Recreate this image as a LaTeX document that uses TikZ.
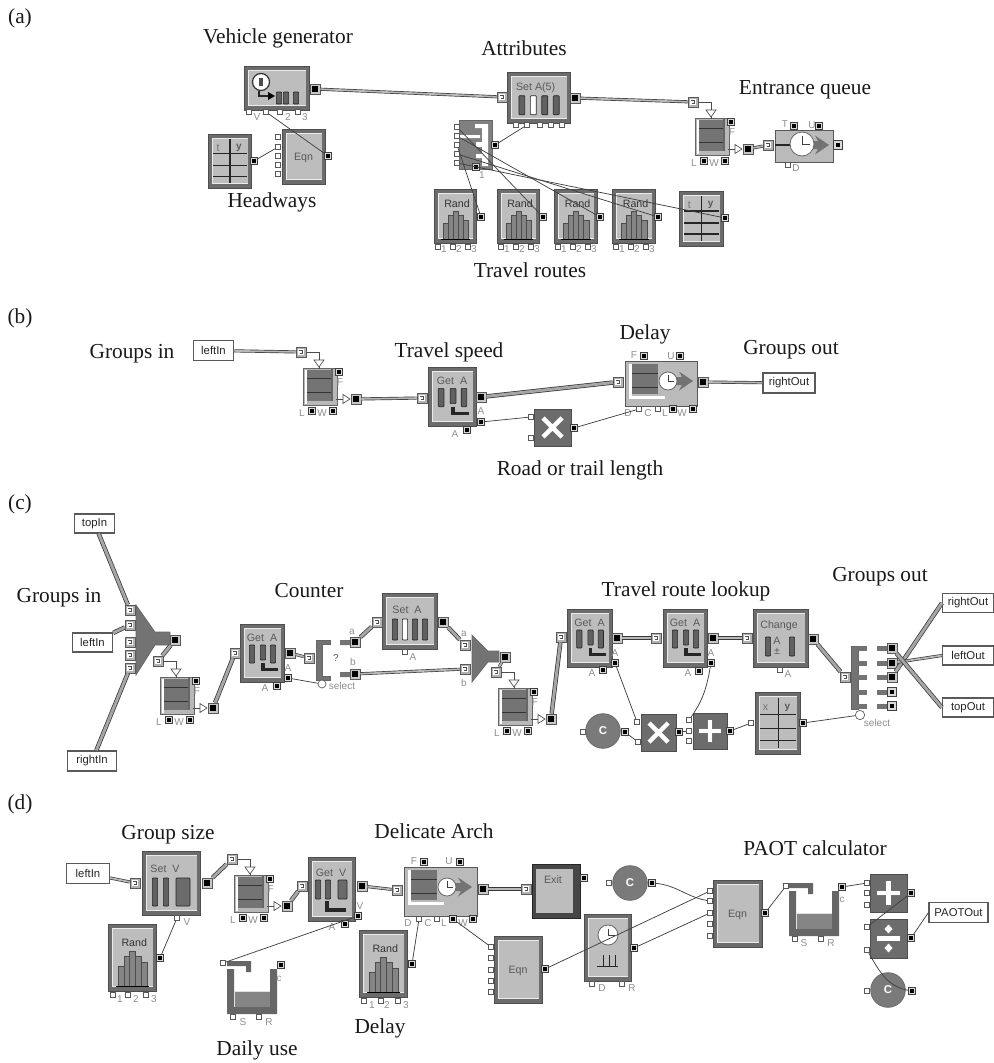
\documentclass[tikz,border=0pt]{standalone}
\usepackage{fontspec}
\setmainfont{Liberation Serif}
\setsansfont{Liberation Sans}
\definecolor{bdark}{HTML}{6C6C6C}
\definecolor{bedge}{HTML}{4E4E4E}
\definecolor{panelc}{HTML}{BDBDBD}
\definecolor{stack}{HTML}{747474}
\definecolor{lab}{HTML}{8E8E8E}
\newcounter{lb}
\tikzset{
  x=0.75pt,y=-0.75pt,
  captxt/.style={font=\rmfamily\fontsize{16}{18}\selectfont,inner sep=0pt,text=black!90,anchor=base,yshift=-4.5pt},
  plab/.style={font=\sffamily\fontsize{7.5}{8}\selectfont,inner sep=0pt,text=lab},
  itxt/.style={font=\sffamily\fontsize{8}{9}\selectfont,inner sep=0pt,text=black!65},
  vin/.style={rectangle,draw=black!65,fill=white,line width=.5pt,minimum size=4.2pt,inner sep=0pt},
  vout/.style={rectangle,draw=black!75,fill=black!15,line width=.5pt,minimum size=4.8pt,inner sep=0pt,
    path picture={\fill[black] (path picture bounding box.center) +(-1.3pt,-1.3pt) rectangle +(1.3pt,1.3pt);}},
  iin/.style={rectangle,draw=black!65,fill=black!30,line width=.5pt,minimum size=7.5pt,inner sep=0pt,
    path picture={\fill[white] (path picture bounding box.center) +(-2.4pt,-2.4pt) rectangle +(2.4pt,2.4pt);
      \draw[black!70,line width=.9pt] (path picture bounding box.center) +(-1.6pt,1.2pt) -- +(1.2pt,1.2pt) -- +(1.2pt,-1.2pt) -- +(-.6pt,-1.2pt);}},
  iout/.style={rectangle,draw=black!65,fill=black!22,line width=.5pt,minimum size=7.5pt,inner sep=0pt,
    path picture={\fill[black] (path picture bounding box.center) +(-2.3pt,-2.3pt) rectangle +(2.3pt,2.3pt);}},
  blockbody/.style={rectangle,draw=bedge,fill=bdark,line width=.6pt,inner sep=0pt},
  wire/.style={draw=black!75,line width=.55pt},
  itemw/.style={draw=black!78,line width=.5pt,double=black!28,double distance=1.3pt},
  itemb/.style={draw=black!78,line width=.55pt,double=black!35,double distance=2.2pt},
  sym/.style={draw=black!55,line width=.35pt,double=white,double distance=3.2pt},
  thinw/.style={draw=black!70,line width=.5pt},
  namebox/.style={rectangle,draw=black!65,fill=white,line width=1.1pt,inner sep=0pt,
     font=\sffamily\fontsize{8.5}{9}\selectfont,text=black!85},
  cblock/.style={circle,draw=black!60,fill=black!52,line width=.5pt,inner sep=0pt,minimum size=26pt,
     font=\sffamily\bfseries\fontsize{8.5}{9}\selectfont,text=white},
}
\newcommand{\lab}[3]{\stepcounter{lb}\node[plab] (lb\arabic{lb}) at (#1,#2) {#3};}
\newcommand{\cp}[3]{\node[captxt] (#1) at #2 {#3};}
\newcommand{\vi}[3]{\node[vin] (#1) at (#2,#3) {};}
\newcommand{\vo}[3]{\node[vout] (#1) at (#2,#3) {};}
\newcommand{\ii}[3]{\node[iin] (#1) at (#2,#3) {};}
\newcommand{\io}[3]{\node[iout] (#1) at (#2,#3) {};}
% plain framed block: name x1 y1 x2 y2
\newcommand{\blk}[5]{%
  \pgfmathsetmacro\bw{(#4-#2)*.75}\pgfmathsetmacro\bh{(#5-#3)*.75}%
  \node[blockbody,minimum width=\bw pt,minimum height=\bh pt] (#1) at ({(#2+#4)/2},{(#3+#5)/2}) {};
  \fill[black!8] (#2+4,#3+4) rectangle (#4-3,#5-4.5);
  \fill[panelc] (#2+5,#3+5) rectangle (#4-3.5,#5-5);
}
% dark operator block
\newcommand{\dblk}[5]{%
  \pgfmathsetmacro\bw{(#4-#2)*.75}\pgfmathsetmacro\bh{(#5-#3)*.75}%
  \node[blockbody,minimum width=\bw pt,minimum height=\bh pt] (#1) at ({(#2+#4)/2},{(#3+#5)/2}) {};
}
\newcommand{\barr}[4][black!62]{\draw[black!85,fill=#1,line width=.5pt,rounded corners=.6pt] (#2-2.6,#3) rectangle (#2+2.6,#4);}
\newcommand{\scl}[6]{\pgfmathsetmacro\sx{(#3-#1)/#5}\pgfmathsetmacro\sy{(#4-#2)/#6}}
% name x1 y1 x2 y2 title
\newcommand{\getblk}[6]{%
  \blk{#1}{#2}{#3}{#4}{#5}\scl{#2}{#3}{#4}{#5}{44}{58}%
  \begin{scope}[shift={(#2,#3)},xscale=\sx,yscale=\sy]
    \node[itxt] (#1-t) at (22,14) {#6};
    \barr{12}{21}{39}\barr{23}{21}{36}\barr{33}{21}{39}
    \draw[black!85,line width=2.6pt] (23,39) -- (23,45.5) -- (38,45.5);
  \end{scope}}
% name x1 y1 x2 y2 title
\newcommand{\setblk}[6]{%
  \blk{#1}{#2}{#3}{#4}{#5}\scl{#2}{#3}{#4}{#5}{55}{56}%
  \begin{scope}[shift={(#2,#3)},xscale=\sx,yscale=\sy]
    \node[itxt] (#1-t) at (25,17) {#6};
    \barr{13}{26}{47}\barr[white]{23}{26}{47}\barr{33}{26}{47}\barr{43}{26}{47}
  \end{scope}}
\newcommand{\randblk}[5]{%
  \blk{#1}{#2}{#3}{#4}{#5}\scl{#2}{#3}{#4}{#5}{42}{54}%
  \begin{scope}[shift={(#2,#3)},xscale=\sx,yscale=\sy]
    \node[itxt,text=black!80] (#1-t) at (23,15) {Rand};
    \foreach \bxx/\btt in {9/34,14/26,19/22,24/26,29/31}{\draw[black!70,fill=black!48,line width=.4pt] (\bxx,\btt) rectangle (\bxx+5,50);}
    \draw[black,line width=.6pt] (7,50) -- (36,50);
  \end{scope}}
\newcommand{\tblk}[7]{%
  \blk{#1}{#2}{#3}{#4}{#5}\scl{#2}{#3}{#4}{#5}{43}{55}%
  \begin{scope}[shift={(#2,#3)},xscale=\sx,yscale=\sy]
    \node[itxt,text=black!55] (#1-t) at (10,14) {#6};
    \node[itxt,font=\sffamily\bfseries\fontsize{7.5}{8}\selectfont] (#1-u) at (31,14) {#7};
    \draw[black!85,line width=.8pt] (22,5) -- (22,50) (5,20) -- (39,20) (5,32) -- (39,32) (5,43) -- (39,43);
  \end{scope}}
\newcommand{\eqnblk}[5]{%
  \blk{#1}{#2}{#3}{#4}{#5}
  \node[itxt] (#1-t) at ({(#2+#4)/2},{(#3+#5)/2+1}) {Eqn};}
% queue: name x1 y1
\newcommand{\queue}[3]{%
  \begin{scope}[shift={(#2,#3)}]
    \node[rectangle,draw=black!60,fill=black!28,minimum width=25.5pt,minimum height=28pt,inner sep=0pt,line width=.5pt] (#1) at (17,19) {};
    \fill[white] (1.5,1.5) rectangle (4,36);
    \fill[stack] (4,1.5) rectangle (29,33);
    \draw[black!80,line width=.5pt] (4,10) -- (29,10) (4,24) -- (29,24);
    \draw[black!60,line width=.9pt] (29,1) -- (29,33);
    \lab{37}{14}{F}\lab{-1}{45}{L}\lab{19}{45}{W}
    \vo{#1-f}{36}{4}\vo{#1-l}{9}{43}\vo{#1-w}{30}{43}
    \io{#1-out}{53}{31}
    \ii{#1-in}{-2}{-16}
    \coordinate (#1-tri) at (16,-8);
    \coordinate (#1-ot) at (40,31);
    \draw[thinw,fill=white] (11,-8) -- (21,-8) -- (16,-1) -- cycle;
    \draw[thinw] (16,-1) -- (16,1);
    \draw[thinw] (33,31) -- (40,31);
    \draw[thinw,fill=white] (40,26.5) -- (40,35.5) -- (47,31) -- cycle;
  \end{scope}
  \draw[thinw] (#1-in.east) -| (#1-tri);}
\newcommand{\clockk}[4]{\draw[black!60,fill=white,line width=.6pt] (#1,#2) circle[radius=#3];
  \draw[black!75,line width=.7pt] (#1,#2-#3*.65) -- (#1,#2) -- (#1+#3*.65,#2);}
\newcommand{\barrow}[3]{\fill[black!55] (#1,#2-4) -- (#1+13,#2-4) -- (#1+10,#2-9.5) -- (#1+24,#2) -- (#1+10,#2+9.5) -- (#1+13,#2+4) -- (#1,#2+4) -- cycle;}
% activity without stack
\newcommand{\actblk}[5]{%
  \pgfmathsetmacro\bw{(#4-#2)*.75}\pgfmathsetmacro\bh{(#5-#3)*.75}%
  \node[rectangle,draw=black!65,fill=black!27,line width=.6pt,inner sep=0pt,minimum width=\bw pt,minimum height=\bh pt] (#1) at ({(#2+#4)/2},{(#3+#5)/2}) {};
  \barrow{#2+30}{#3+15}{1}
  \draw[black!85,line width=1.2pt] (#2,#3+15) -- (#2+15,#3+15);
  \clockk{#2+27}{#3+14}{12}{1}}
% delay block with stack
\newcommand{\delblk}[5]{%
  \pgfmathsetmacro\bw{(#4-#2)*.75}\pgfmathsetmacro\bh{(#5-#3)*.75}%
  \node[rectangle,draw=black!65,fill=black!27,line width=.6pt,inner sep=0pt,minimum width=\bw pt,minimum height=\bh pt] (#1) at ({(#2+#4)/2},{(#3+#5)/2}) {};
  \fill[white] (#2+4,#3+3) rectangle (#2+7,#3+38);
  \fill[white] (#2+4,#3+35) rectangle (#2+40,#3+38);
  \fill[stack] (#2+7,#3+3) rectangle (#2+33,#3+33);
  \draw[black!80,line width=.5pt] (#2+7,#3+12) -- (#2+33,#3+12) (#2+7,#3+26) -- (#2+33,#3+26);
  \barrow{#2+44}{#3+20}{1}
  \clockk{#2+43}{#3+20}{9}{1}}
\newcommand{\tank}[3]{%
  \begin{scope}[shift={(#2,#3)}]
    \node[rectangle,inner sep=0pt,minimum width=36pt,minimum height=38pt] (#1) at (25,27) {};
    \fill[black!60] (0,8) -- (0,53) -- (50,53) -- (50,8) -- (43,8) -- (43,46) -- (7,46) -- (7,8) -- cycle;
    \fill[black!12] (7,30) rectangle (43,46);
    \fill[black!48] (8,31) rectangle (43,46);
    \fill[black!60] (0,0) -- (24,0) -- (24,11) -- (19,11) -- (19,5) -- (0,5) -- cycle;
  \end{scope}}
\begin{document}
\begin{tikzpicture}
\useasboundingbox (0,0) rectangle (994,1063);
\fill[white] (0,0) rectangle (994,1063);
%%%%%%%%%% (a)
\cp{la}{(20,18)}{(a)}
\cp{aveh}{(278,38)}{Vehicle generator}
\cp{aatt}{(524,50)}{Attributes}
\cp{aent}{(805,88)}{Entrance queue}
\cp{ahead}{(272,201)}{Headways}
\cp{atrav}{(530,271)}{Travel routes}
\blk{vg}{244}{66}{309}{110}
\draw[black!80,fill=white,line width=.9pt] (261,82) circle[radius=8.5];
\fill[black!70] (259,78) rectangle (263,86);
\draw[black!85,line width=.8pt] (259,91) -- (259,96) -- (270,96);
\fill[black] (268,92) -- (275,96) -- (268,100) -- cycle;
\barr{279}{92}{104}\barr{286}{92}{104}\barr{296}{92}{104}
\vi{vg1}{249}{112}\vi{vg2}{266}{112}\vi{vg3}{280}{112}\vi{vg4}{298}{112}
\lab{257}{117}{V}\lab{288}{117}{2}\lab{305}{117}{3}
\io{vgo}{315}{89}
\setblk{attr}{507}{72}{570}{123}{Set A(5)}
\ii{attri}{502}{97}\io{attro}{575}{98}
\vi{at1}{516}{125}\vi{at2}{527}{125}\vi{at3}{540}{125}\vi{at4}{551}{125}\vi{at5}{562}{125}
\draw[itemw] (vgo) -- (attri);
\tblk{htab}{208}{134}{251}{188}{t}{y}
\vo{htabo}{254}{161}
\eqnblk{heq}{282}{129}{325}{184}
\foreach \py/\pn in {137/1,147/2,156/3,165/4,174/5}{\vi{heq\pn}{278}{\py}}
\vo{heqo}{328}{156}
\draw[wire] (htabo) -- (heq2);
\draw[wire] (vg2) -- (heqo);
% route table
\node[rectangle,draw=black!60,fill=black!50,line width=.5pt,minimum width=25pt,minimum height=37pt,inner sep=0pt] (route) at (476,145) {};
\fill[white] (482,124) rectangle (488,166) (475,124) rectangle (482,128) (476,142) rectangle (482,147) (476,154) rectangle (482,158) (459,135) rectangle (480,138);
\foreach \py/\pn in {127/1,136/2,145/3,154/4,163/5}{\vi{rt\pn}{457}{\py}}
\vo{rto}{495}{145}
\vo{rtb}{476}{167}
\lab{482}{175}{1}
\draw[wire] (rto) -- (at2);
\randblk{ra1}{434}{189}{476}{243}
\randblk{ra2}{497}{189}{539}{243}
\randblk{ra3}{554}{189}{597}{243}
\randblk{ra4}{612}{189}{655}{243}
\tblk{rtab}{679}{191}{723}{246}{t}{y}
\vo{ra1o}{481}{217}\vo{ra2o}{543}{217}\vo{ra3o}{600}{217}\vo{ra4o}{658}{217}\vo{rtabo}{725}{218}
\foreach \k/\xa/\xb/\xc in {1/438/453/468,2/501/516/531,3/558/573/588,4/616/631/646}{
  \vi{rb\k a}{\xa}{247}\vi{rb\k b}{\xb}{247}\vi{rb\k c}{\xc}{247}
  \lab{\xa+6}{249}{1}\lab{\xb+6}{249}{2}\lab{\xc+6}{249}{3}}
\draw[wire] (rt3) -- (ra1o);
\draw[wire] (rt1) -- (ra2o);
\draw[wire] (rt2) -- (ra3o);
\draw[wire] (rt4) -- (ra4o);
\draw[wire] (rt5) -- (rtabo);
\queue{qa}{695}{118}
\draw[itemw] (attro) -- (qa-in);
\actblk{acta}{775}{130}{833}{162}
\ii{actai}{768}{145}\vo{actat}{794}{126}\vo{actau}{819}{126}\vi{actad}{788}{165}\node[vout,minimum size=6.5pt] (actao) at (838,145) {};
\lab{785}{124}{T}\lab{812}{125}{U}\lab{796}{168}{D}
\draw[itemw] (qa-out) -- (actai);
%%%%%%%%%% (b)
\cp{lb}{(20,317)}{(b)}
\cp{bgi}{(132,352)}{Groups in}
\cp{bts}{(449,351)}{Travel speed}
\cp{bd}{(645,333)}{Delay}
\cp{bgo}{(791,348)}{Groups out}
\cp{brt}{(580,469)}{Road or trail length}
\node[namebox,minimum width=30pt,minimum height=15pt] (bleft) at (213.5,350.5) {leftIn};
\queue{qb}{303}{368}
\draw[itemw] (bleft) -- (qb-in);
\getblk{bget}{428}{367}{476}{426}{Get\ \ A}
\ii{bgeti}{422}{398}\io{bgeto}{481}{397}\vo{bgeta}{481}{422}\vo{bgetb}{467}{430}
\lab{455}{434}{A}\lab{481}{411}{A}
\draw[itemw] (qb-out) -- (bgeti);
\delblk{bdel}{625}{361}{697}{406}
\ii{bdeli}{618}{382}\io{bdelo}{703}{382}
\vo{bdf}{644}{356}\vo{bdu}{680}{356}\vi{bdd}{639}{409}\vi{bdc}{658}{409}\vo{bdl}{673}{409}\vo{bdw}{693}{409}
\lab{634}{355}{F}\lab{671}{356}{U}\lab{628}{413}{D}\lab{648}{413}{C}\lab{665}{413}{L}\lab{682}{413}{W}
\draw[itemb] (bgeto) -- (bdeli);
\dblk{bx}{534}{409}{571}{446}
\draw[sym] (543,418) -- (562,437) (562,418) -- (543,437);
\vi{bx1}{531}{417}\vi{bx2}{531}{438}\vo{bxo}{574}{428}
\draw[wire] (bgeta) -- (bx1);
\draw[wire] (bxo) -- (bdd);
\node[namebox,minimum width=39pt,minimum height=15pt] (bright) at (789,383) {rightOut};
\draw[itemw] (bdelo) -- (bright);
%%%%%%%%%% (c)
\cp{lc}{(20,503)}{(c)}
\cp{cgi}{(59,596)}{Groups in}
\cp{cco}{(309,591)}{Counter}
\cp{ctr}{(686,590)}{Travel route lookup}
\cp{cgo}{(880,575)}{Groups out}
\node[namebox,minimum width=30pt,minimum height=14pt] (ctop) at (94.5,523.5) {topIn};
\node[namebox,minimum width=30pt,minimum height=14pt] (cleft) at (92.5,642.5) {leftIn};
\node[namebox,minimum width=37pt,minimum height=15pt] (cright) at (92,761) {rightIn};
\draw[black!60,fill=black!55,line width=.5pt] (136,605) -- (155,632) -- (170,632) -- (170,645) -- (155,645) -- (136,675) -- cycle;
\ii{cm1}{130}{610}\ii{cm2}{130}{625}\ii{cm3}{130}{642}\ii{cm4}{130}{655}\ii{cm5}{130}{668}
\io{cmo}{175}{640}
\draw[itemb] (ctop) -- (cm1);
\draw[itemb] (cleft) -- (cm2);
\draw[itemb] (cright) -- (cm5);
\queue{qc}{160}{677}
\draw[itemb] (cmo) -- (qc-in);
\getblk{cg1}{240}{624}{284}{682}{Get\ \ A}
\ii{cg1i}{235}{653}\io{cg1o}{290}{653}\vo{cg1a}{288}{678}\vo{cg1b}{277}{686}
\lab{265}{688}{A}\lab{288}{668}{A}
\draw[itemb] (qc-out) -- (cg1i);
% select
\draw[black!60,fill=black!55,line width=.5pt] (316,640) -- (330,640) -- (330,644) -- (322,644) -- (322,676) -- (330,676) -- (330,680) -- (316,680) -- cycle;
\ii{csi}{309}{658}
\draw[itemw] (cg1o) -- (csi);
\node[vin,circle,minimum size=6pt] (csel) at (322,684) {};
\lab{342}{686}{select}
\draw[wire] (cg1a) -- (csel);
\node[plab,text=black!65] (cq) at (336,658) {?};
\fill[black!55] (340,640) rectangle (350,645) (340,672) rectangle (350,677);
\io{csa}{355}{642}\io{csb}{355}{674}
\lab{352}{632}{a}\lab{353}{662}{b}
\setblk{cset}{382}{593}{437}{649}{Set\ \ A}
\ii{cseti}{377}{622}\io{cseto}{443}{622}\vi{csetb}{405}{652}\lab{413}{657}{A}
\draw[itemb] (csa) -- (cseti);
\draw[black!60,fill=black!55,line width=.5pt] (472,635) -- (488,651) -- (499,651) -- (499,662) -- (488,662) -- (472,682) -- cycle;
\ii{cb1}{465}{645}\ii{cb2}{465}{669}\io{cbo}{505}{657}
\lab{464}{634}{a}\lab{464}{683}{b}
\draw[itemb] (cseto) -- (cb1);
\draw[itemw] (csb) -- (cb2);
\queue{qd}{498}{688}
\draw[itemw] (cbo) -- (qd-in);
\getblk{cg2}{567}{609}{612}{667}{Get\ \ A}
\ii{cg2i}{561}{637}\io{cg2o}{617}{638}\vo{cg2a}{615}{663}\vo{cg2b}{603}{670}
\lab{592}{673}{A}\lab{615}{653}{A}
\draw[itemb] (qd-out) -- (cg2i);
\node[cblock] (cc) at (603,731) {C};
\vi{cci}{583}{732}\vo{cco2}{625}{732}
\dblk{cmul}{641}{714}{676}{751}
\draw[sym] (649,723) -- (668,742) (668,723) -- (649,742);
\vi{cmul1}{637}{722}\vi{cmul2}{638}{742}\vo{cmulo}{679}{732}
\draw[wire] (cg2a) -- (cmul1);
\draw[wire] (cco2) -- (cmul2);
\dblk{cplus}{693}{713}{727}{749}
\draw[sym] (710,720) -- (710,742) (699,731) -- (721,731);
\vi{cpl1}{689}{720}\vi{cpl2}{689}{731}\vi{cpl3}{689}{741}\vo{cplo}{730}{731}
\draw[wire] (cmulo) -- (cpl2);
\getblk{cg3}{663}{609}{707}{667}{Get\ \ A}
\ii{cg3i}{656}{638}\io{cg3o}{713}{638}\vo{cg3a}{711}{663}\vo{cg3b}{699}{671}
\lab{688}{673}{A}\lab{711}{653}{A}
\draw[itemw] (cg2o) -- (cg3i);
\draw[wire] (cg3a) to[out=260,in=55] (cpl1);
\blk{cch}{753}{609}{808}{667}
\node[itxt] (cch-t) at (779,626) {Change};
\barr{768}{637}{656}\barr{792}{637}{656}
\node[itxt] (cch-a) at (777,641) {A};
\node[itxt] (cch-p) at (777,651) {±};
\ii{cchi}{747}{638}\io{ccho}{813}{639}\vi{cchb}{780}{670}\lab{788}{674}{A}
\draw[itemw] (cg3o) -- (cchi);
\tblk{ctab}{755}{692}{800}{754}{x}{y}
\vi{ctabi}{751}{723}\vo{ctabo}{803}{723}
\draw[wire] (cplo) -- (ctabi);
% selector out
\draw[black!60,fill=black!55,line width=.5pt] (851,646) rectangle (858,709);
\foreach \py in {648,663,677,692,706}{\fill[black!55] (858,\py-2.5) rectangle (867,\py+2.5); \fill[black!55] (877,\py-2.5) rectangle (887,\py+2.5);}
\ii{cswi}{845}{677}
\draw[itemb] (ccho) -- (cswi);
\io{csw1}{892}{648}\io{csw2}{892}{663}\io{csw3}{892}{677}\node[vout,minimum size=7pt] (csw4) at (892,692) {};\node[vout,minimum size=7pt] (csw5) at (892,706) {};
\node[vin,circle,minimum size=7pt] (cswsel) at (860,715) {};
\lab{877}{723}{select}
\draw[wire] (ctabo) -- (cswsel);
\node[namebox,minimum width=38pt,minimum height=14pt] (crout) at (968,603) {rightOut};
\node[namebox,minimum width=38pt,minimum height=14pt] (clout) at (968,655.5) {leftOut};
\node[namebox,minimum width=38pt,minimum height=14pt] (ctout) at (968,707.5) {topOut};
\draw[itemb] (csw3) -- (crout.west);
\draw[itemw] (csw2) -- (clout.west);
\draw[itemb] (csw1) -- (ctout.west);
%%%%%%%%%% (d)
\cp{ld}{(20,803)}{(d)}
\cp{dgs}{(168,833)}{Group size}
\cp{dda}{(434,832)}{Delicate Arch}
\cp{dpa}{(815,849)}{PAOT calculator}
\cp{ddu}{(257,1049)}{Daily use}
\cp{ddl}{(380,1027)}{Delay}
\node[namebox,minimum width=32pt,minimum height=15pt] (dleft) at (88,873.5) {leftIn};
\blk{dset}{142}{851}{200}{915}
\node[itxt] (dset-t) at (165,869) {Set\ \ V};
\barr{155}{878}{906}\barr{166}{878}{906}
\draw[black!85,fill=black!58,line width=.5pt,rounded corners=.6pt] (176,878) rectangle (190,906);
\ii{dseti}{135}{883}\io{dseto}{207}{883}\vi{dsetb}{177}{918}\lab{187}{922}{V}
\draw[itemw] (dleft) -- (dseti);
\randblk{dr1}{108}{924}{156}{991}
\vo{dr1o}{160}{958}\vi{dr1a}{113}{995}\vi{dr1b}{128}{995}\vi{dr1c}{146}{995}
\lab{120}{999}{1}\lab{136}{999}{2}\lab{154}{999}{3}
\draw[wire] (dr1o) -- (dsetb);
\queue{qe}{234}{875}
\draw[itemb] (dseto) -- (qe-in);
\blk{dget}{308}{857}{355}{921}
\node[itxt] (dget-t) at (331,873) {Get\ \ V};
\barr{318}{880}{899}\barr{328}{880}{899}
\draw[black!85,fill=black!58,line width=.5pt,rounded corners=.6pt] (338,880) rectangle (347,899);
\draw[black!85,line width=2.6pt] (327,901) -- (327,910) -- (346,910);
\ii{dgeti}{302}{886}\io{dgeto}{362}{886}\vo{dgeta}{358}{916}\vo{dgetb}{345}{924}
\lab{332}{927}{A}\lab{360}{906}{V}
\draw[itemb] (qe-out) -- (dgeti);
\tank{dtk}{227}{961}
\vi{dtki}{223}{963}\vo{dtko}{281}{965}\vi{dtks}{233}{1017}\vi{dtkr}{259}{1017}
\lab{279}{979}{c}\lab{243}{1022}{S}\lab{269}{1022}{R}
\draw[wire] (dgeta) -- (dtki);
\delblk{ddel}{404}{867}{477}{916}
\ii{ddeli}{397}{890}\io{ddelo}{483}{889}
\vo{ddf}{424}{862}\vo{ddu2}{460}{862}\vi{ddd}{419}{919}\vi{ddc}{437}{919}\vo{ddl2}{453}{919}\vo{ddw}{473}{919}
\lab{414}{861}{F}\lab{449}{861}{U}\lab{408}{923}{D}\lab{428}{923}{C}\lab{444}{923}{L}\lab{463}{923}{W}
\draw[itemw] (dgeto) -- (ddeli);
\node[rectangle,draw=black!85,fill=black!72,line width=.6pt,minimum width=36pt,minimum height=41pt,inner sep=0pt] (dex) at (556,891.5) {};
\fill[panelc] (536,869) rectangle (573,913);
\node[itxt] (dex-t) at (553,880) {Exit};
\ii{dexi}{526}{889}\vo{dexo}{584}{878}
\draw[itemw] (ddelo) -- (dexi);
\randblk{dr2}{359}{930}{407}{997}
\vo{dr2o}{412}{964}\vi{dr2a}{364}{1001}\vi{dr2b}{381}{1001}\vi{dr2c}{398}{1001}
\lab{372}{1005}{1}\lab{387}{1005}{2}\lab{406}{1005}{3}
\draw[wire] (dr2o) -- (ddd);
\eqnblk{deq}{494}{936}{542}{1003}
\foreach \py/\pn in {947/1,958/2,970/3,981/4,992/5}{\vi{deq\pn}{491}{\py}}
\vo{deqo}{545}{969}
\draw[wire] (ddl2) -- (deq1);
\blk{dtim}{584}{914}{631}{981}
\clockk{608}{935}{10}{1}
\draw[black!85,line width=.7pt] (597,966) -- (618,966) (603,966) -- (603,955) (609,966) -- (609,955) (615,966) -- (615,955);
\vo{dtimo}{634}{948}\vi{dtimd}{592}{984}\vi{dtimr}{622}{984}
\lab{602}{988}{D}\lab{632}{988}{R}
\node[cblock] (dc1) at (630,883) {C};
\vi{dc1i}{609}{883}\vo{dc1o}{652}{883}
\eqnblk{dq3}{713}{880}{762}{947}
\foreach \py/\pn in {891/1,901/2,913/3,924/4,936/5}{\vi{dq3\pn}{710}{\py}}
\vo{dq3o}{765}{913}
\draw[wire] (dc1o) to[out=-5,in=170] (dq32);
\draw[wire] (deqo) -- (dq31);
\draw[wire] (dtimo) -- (dq33);
\tank{dt2}{789}{883}
\vi{dt2i}{786}{886}\vo{dt2o}{842}{887}\vi{dt2s}{795}{939}\vi{dt2r}{821}{939}
\lab{842}{900}{c}\lab{804}{943}{S}\lab{831}{943}{R}
\draw[wire] (dq3o) -- (dt2i);
\dblk{dpl}{870}{874}{907}{912}
\draw[sym] (888.5,881) -- (888.5,905) (877,893) -- (900,893);
\vi{dpl1}{867}{883}\vi{dpl2}{867}{893}\vi{dpl3}{867}{905}\vo{dplo}{911}{893}
\draw[wire] (dt2o) -- (dpl1);
\dblk{ddv}{870}{919}{907}{958}
\draw[sym] (877,938.5) -- (900,938.5);
\draw[black!55,fill=white,line width=.35pt] (888.5,924) -- (893,929) -- (888.5,934) -- (884,929) -- cycle;
\draw[black!55,fill=white,line width=.35pt] (888.5,943) -- (893,948) -- (888.5,953) -- (884,948) -- cycle;
\vi{ddv1}{867}{927}\vi{ddv2}{867}{950}\vo{ddvo}{911}{938}
\draw[wire] (dplo) -- (ddv1);
\node[namebox,minimum width=44pt,minimum height=15pt] (dpaot) at (958.5,912.5) {PAOTOut};
\draw[wire] (ddvo) -- (dpaot.west);
\node[cblock] (dc2) at (888,990) {C};
\vi{dc2i}{867}{991}\vo{dc2o}{912}{991}
\draw[wire] (dc2o) to[out=170,in=-60] (ddv2);
\end{tikzpicture}
\end{document}
